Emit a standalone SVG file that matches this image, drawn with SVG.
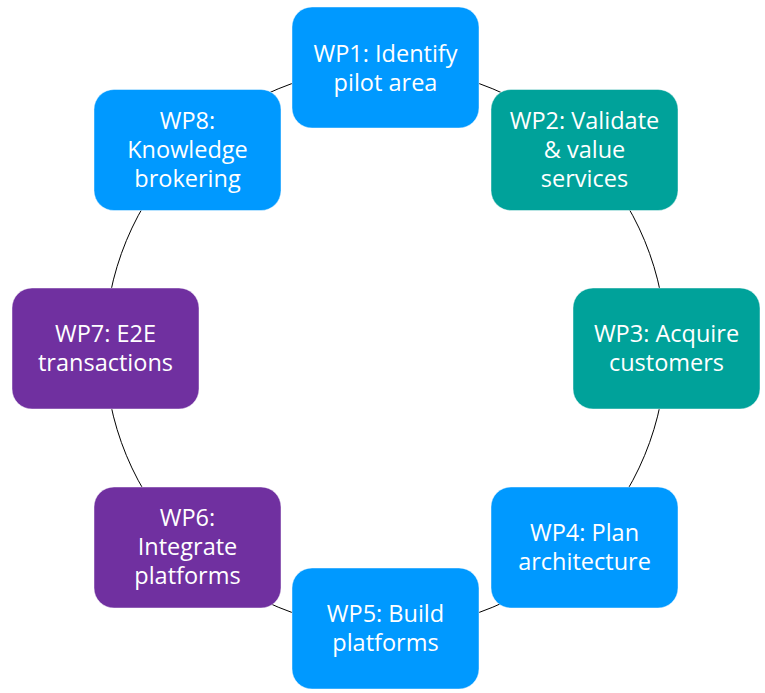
<svg xmlns="http://www.w3.org/2000/svg" width="765" height="693" viewBox="0 0 765 693">
<style>
.box{stroke:#ffffff;stroke-opacity:0.45;stroke-width:1}
.blue{fill:#0099FF}
.teal{fill:#00A29A}
.purple{fill:#7030A0}
.lbl{font-family:"Open Sans","Noto Sans",sans-serif;font-size:23.5px;fill:#ffffff;text-anchor:middle}
</style>
<rect width="765" height="693" fill="#ffffff"/>
<g id="connectors">
<circle cx="385.5" cy="348" r="280.5" fill="none" stroke="#000000" stroke-width="1"/>
</g>
<g id="wp1">
<rect class="box blue" x="292" y="7" width="187" height="121" rx="20"/>
<text class="lbl" x="385.5" y="62">WP1: Identify</text>
<text class="lbl" x="385.5" y="91">pilot area</text>
</g>
<g id="wp2">
<rect class="box teal" x="491" y="89.5" width="187" height="121" rx="20"/>
<text class="lbl" x="584.5" y="128.5">WP2: Validate</text>
<text class="lbl" x="584.5" y="157.5">&amp; value</text>
<text class="lbl" x="584.5" y="186.5">services</text>
</g>
<g id="wp3">
<rect class="box teal" x="573" y="288" width="187" height="121" rx="20"/>
<text class="lbl" x="666.5" y="342">WP3: Acquire</text>
<text class="lbl" x="666.5" y="371">customers</text>
</g>
<g id="wp4">
<rect class="box blue" x="491" y="487" width="187" height="121" rx="20"/>
<text class="lbl" x="584.5" y="541">WP4: Plan</text>
<text class="lbl" x="584.5" y="570">architecture</text>
</g>
<g id="wp5">
<rect class="box blue" x="292" y="568" width="187" height="121" rx="20"/>
<text class="lbl" x="385.5" y="622">WP5: Build</text>
<text class="lbl" x="385.5" y="651">platforms</text>
</g>
<g id="wp6">
<rect class="box purple" x="94" y="487" width="187" height="121" rx="20"/>
<text class="lbl" x="187.5" y="526">WP6:</text>
<text class="lbl" x="187.5" y="555">Integrate</text>
<text class="lbl" x="187.5" y="584">platforms</text>
</g>
<g id="wp7">
<rect class="box purple" x="12" y="288" width="187" height="121" rx="20"/>
<text class="lbl" x="105.5" y="342">WP7: E2E</text>
<text class="lbl" x="105.5" y="371">transactions</text>
</g>
<g id="wp8">
<rect class="box blue" x="94" y="89.5" width="187" height="121" rx="20"/>
<text class="lbl" x="187.5" y="128.5">WP8:</text>
<text class="lbl" x="187.5" y="157.5">Knowledge</text>
<text class="lbl" x="187.5" y="186.5">brokering</text>
</g>
</svg>
